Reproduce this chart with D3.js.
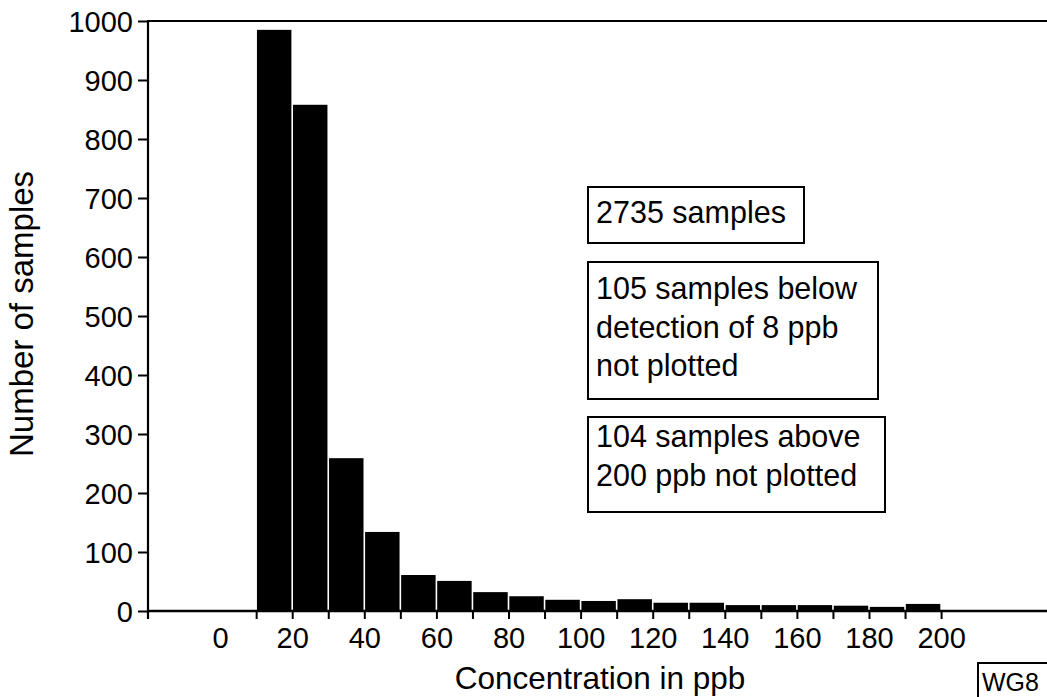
<!DOCTYPE html>
<html>
<head>
<meta charset="utf-8">
<script src="https://cdn.jsdelivr.net/npm/d3@7"></script>
<style>
  html, body { margin: 0; padding: 0; background: #fff; }
  svg { display: block; }
  text { font-family: "Liberation Sans", Arial, Helvetica, sans-serif; fill: #000; }
</style>
</head>
<body>
<svg id="chart" width="1047" height="697"></svg>
<script>
// ---- data ----
const binStarts = [10, 20, 30, 40, 50, 60, 70, 80, 90, 100, 110, 120, 130, 140, 150, 160, 170, 180, 190];
const binWidth = 10;
const counts = [985, 858, 259, 134, 61, 51, 32, 25, 19, 17, 20, 14, 14, 10, 10, 10, 9, 7, 12];
const yTickValues = [0, 100, 200, 300, 400, 500, 600, 700, 800, 900, 1000];
const xTickMarks = [10, 20, 30, 40, 50, 60, 70, 80, 90, 100, 110, 120, 130, 140, 150, 160, 170, 180, 190, 200];
const xTickLabels = [0, 20, 40, 60, 80, 100, 120, 140, 160, 180, 200];
const xTitle = "Concentration in ppb";
const yTitle = "Number of samples";
const noteBoxes = [
  ["2735 samples"],
  ["105 samples below", "detection of 8 ppb", "not plotted"],
  ["104 samples above", "200 ppb not plotted"]
];
const cornerLabel = "WG8";

// ---- layout ----
const svg = d3.select("#chart");
const x = d3.scaleLinear().domain([-20, 230]).range([148, 148 + 250 * 3.605]);
const y = d3.scaleLinear().domain([0, 1000]).range([611, 21]);

// bars
svg.append("g").selectAll("rect").data(binStarts).join("rect")
  .attr("x", (d) => x(d) + 0.8)
  .attr("y", (d, i) => y(counts[i]))
  .attr("width", (d) => x(d + binWidth) - x(d) - 1.6)
  .attr("height", (d, i) => y(0) - y(counts[i]))
  .attr("fill", "#000");

// frame lines
svg.append("line").attr("x1", x(-20)).attr("x2", 1047).attr("y1", y(1000)).attr("y2", y(1000))
  .attr("stroke", "#000").attr("stroke-width", 2.2);
svg.append("line").attr("x1", x(-20)).attr("x2", 1047).attr("y1", y(0)).attr("y2", y(0))
  .attr("stroke", "#000").attr("stroke-width", 2.4);
svg.append("line").attr("x1", x(-20)).attr("x2", x(-20)).attr("y1", y(1000) - 1).attr("y2", y(0) + 8)
  .attr("stroke", "#000").attr("stroke-width", 2.2);

// y axis
const yAxis = svg.append("g").attr("transform", `translate(${x(-20)},0)`)
  .call(d3.axisLeft(y).tickValues(yTickValues).tickSize(10).tickPadding(5).tickFormat(d3.format("d")));
yAxis.select(".domain").remove();
yAxis.selectAll(".tick line").attr("stroke", "#000").attr("stroke-width", 2);
yAxis.selectAll(".tick text").style("font-size", "29px").style("font-family", "Liberation Sans, Arial, sans-serif")
  .attr("dy", "0.36em").attr("fill", "#000");

// x axis tick marks
const xMarks = svg.append("g").attr("transform", `translate(0,${y(0)})`)
  .call(d3.axisBottom(x).tickValues(xTickMarks).tickSize(8).tickFormat(""));
xMarks.select(".domain").remove();
xMarks.selectAll(".tick line").attr("stroke", "#000").attr("stroke-width", 2);

// x axis labels
const xLabels = svg.append("g").attr("transform", `translate(0,${y(0)})`)
  .call(d3.axisBottom(x).tickValues(xTickLabels).tickSize(0).tickPadding(16).tickFormat(d3.format("d")));
xLabels.select(".domain").remove();
xLabels.selectAll(".tick text").style("font-size", "29px").style("font-family", "Liberation Sans, Arial, sans-serif")
  .attr("fill", "#000");

// axis titles
svg.append("text").attr("x", 600).attr("y", 689).attr("text-anchor", "middle")
  .style("font-size", "31.5px").text(xTitle);
svg.append("text").attr("transform", "translate(33,314) rotate(-90)").attr("text-anchor", "middle")
  .style("font-size", "33px").text(yTitle);

// note boxes
const boxGeom = [
  { x: 588, y: 187, w: 216, h: 56, base: 223 },
  { x: 588, y: 262, w: 290, h: 137, base: 299 },
  { x: 588, y: 417, w: 297, h: 95, base: 447 }
];
const lineGap = 38.5;
noteBoxes.forEach((lines, i) => {
  const g = boxGeom[i];
  svg.append("rect").attr("x", g.x).attr("y", g.y).attr("width", g.w).attr("height", g.h)
    .attr("fill", "#fff").attr("stroke", "#000").attr("stroke-width", 2);
  lines.forEach((t, j) => {
    svg.append("text").attr("x", g.x + 8).attr("y", g.base + j * lineGap)
      .style("font-size", "30.5px").text(t);
  });
});

// corner label box (box runs off the page edge)
svg.append("rect").attr("x", 978).attr("y", 663).attr("width", 100).attr("height", 50)
  .attr("fill", "#fff").attr("stroke", "#000").attr("stroke-width", 2);
svg.append("text").attr("x", 982).attr("y", 691).style("font-size", "25px").text(cornerLabel);
</script>
</body>
</html>
